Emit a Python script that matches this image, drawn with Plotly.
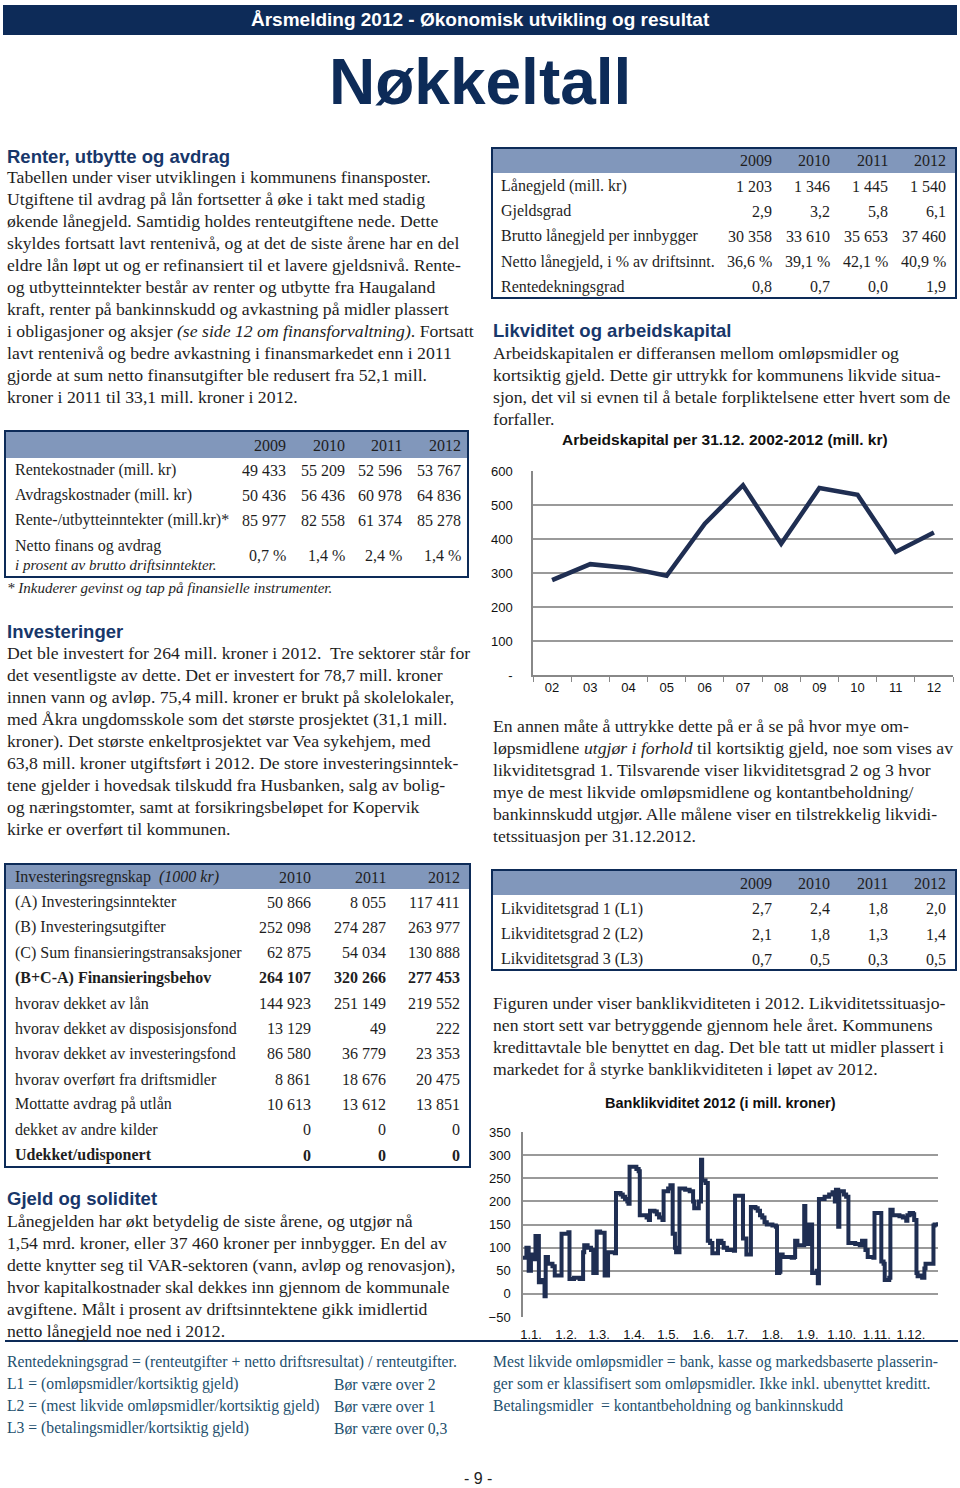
import plotly.graph_objects as go

W, H = 960, 1488
SERIF = "Liberation Serif, Times New Roman, serif"
SANS = "Liberation Sans, Arial, sans-serif"
NARROW = "Liberation Sans Narrow, Arial Narrow, Liberation Sans, sans-serif"
NAVY = "#0d2b58"
HEAD = "#18376a"
TXT = "#1e1e1e"
FOOT = "#24506e"
BAND = "#8197bb"
LINE = "#1f2e52"
GRID = "#9a9a9a"
BODY = 17.7
TAB = 16
FOOTSZ = 15.7

# ---------------- data ----------------
ak_years = ["02", "03", "04", "05", "06", "07", "08", "09", "10", "11", "12"]
ak_values = [279, 326, 315, 292, 445, 558, 386, 550, 530, 362, 419]
ak_yticks = [0, 100, 200, 300, 400, 500, 600]
ak_yticktext = ["-", "100", "200", "300", "400", "500", "600"]

bank_day = [0, 3, 5, 7, 9, 11, 14, 17, 19, 20, 22, 26, 28, 34, 40, 41, 45, 50, 53, 54,
            57, 60, 62, 65, 68, 72, 75, 81, 82, 86, 88, 90, 92, 93, 94, 100, 102, 103, 109, 111,
            112, 116, 118, 120, 123, 124, 128, 130, 132, 134, 135, 138, 143, 147, 150, 151, 155, 157, 158, 161,
            163, 165, 167, 172, 175, 177, 180, 186, 187, 194, 197, 201, 205, 207, 209, 211, 213, 215, 220, 223,
            224, 226, 227, 229, 237, 239, 240, 242, 248, 249, 252, 255, 259, 260, 261, 266, 270, 273, 275, 276,
            278, 279, 283, 285, 287, 293, 297, 299, 302, 304, 309, 310, 316, 318, 319, 323, 324, 326, 332, 335,
            338, 339, 341, 344, 345, 347, 348, 351, 352, 354, 355, 362, 363, 366]
bank_value = [78, 100, 50, 85, 75, 125, 25, 30, -5, 80, 65, 60, 40, 130, 133, 32, 35, 32, 90, 105,
              100, 95, 45, 135, 132, 40, 90, 88, 218, 215, 210, 205, 200, 195, 275, 270, 265, 170, 165, 160,
              180, 178, 172, 165, 160, 222, 228, 235, 130, 100, 90, 228, 225, 222, 200, 185, 200, 290, 245, 240,
              115, 110, 88, 115, 110, 100, 95, 93, 212, 120, 85, 188, 185, 180, 170, 165, 155, 150, 148, 145,
              45, 48, 85, 80, 78, 80, 115, 105, 190, 108, 150, 45, 50, 23, 205, 210, 215, 220, 200, 225,
              145, 222, 215, 210, 110, 108, 105, 115, 95, 80, 78, 175, 70, 65, 30, 35, 182, 170, 168, 165,
              158, 170, 175, 172, 160, 45, 38, 40, 35, 55, 65, 148, 150, 155]
bank_month_start = [0, 31, 60, 91, 121, 152, 182, 213, 244, 274, 305, 335]
bank_month_text = ["1.1.", "1.2.", "1.3.", "1.4.", "1.5.", "1.6.", "1.7.", "1.8.", "1.9.", "1.10.", "1.11.", "1.12."]
bank_yticks = [-50, 0, 50, 100, 150, 200, 250, 300, 350]

t1_years = ["2009", "2010", "2011", "2012"]
t1_rows = ["Rentekostnader (mill. kr)", "Avdragskostnader (mill. kr)", "Rente-/utbytteinntekter (mill.kr)*"]
t1_vals = [["49 433", "55 209", "52 596", "53 767"],
           ["50 436", "56 436", "60 978", "64 836"],
           ["85 977", "82 558", "61 374", "85 278"]]
t1_netto = ["0,7 %", "1,4 %", "2,4 %", "1,4 %"]

t2_years = ["2009", "2010", "2011", "2012"]
t2_rows = ["Lånegjeld (mill. kr)", "Gjeldsgrad", "Brutto lånegjeld per innbygger",
           "Netto lånegjeld, i % av driftsinnt.", "Rentedekningsgrad"]
t2_vals = [["1 203", "1 346", "1 445", "1 540"],
           ["2,9", "3,2", "5,8", "6,1"],
           ["30 358", "33 610", "35 653", "37 460"],
           ["36,6 %", "39,1 %", "42,1 %", "40,9 %"],
           ["0,8", "0,7", "0,0", "1,9"]]

t3_years = ["2010", "2011", "2012"]
t3_rows = ["(A) Investeringsinntekter", "(B) Investeringsutgifter", "(C) Sum finansieringstransaksjoner",
           "(B+C-A) Finansieringsbehov", "hvorav dekket av lån", "hvorav dekket av disposisjonsfond",
           "hvorav dekket av investeringsfond", "hvorav overført fra driftsmidler", "Mottatte avdrag på utlån",
           "dekket av andre kilder", "Udekket/udisponert"]
t3_vals = [["50 866", "8 055", "117 411"],
           ["252 098", "274 287", "263 977"],
           ["62 875", "54 034", "130 888"],
           ["264 107", "320 266", "277 453"],
           ["144 923", "251 149", "219 552"],
           ["13 129", "49", "222"],
           ["86 580", "36 779", "23 353"],
           ["8 861", "18 676", "20 475"],
           ["10 613", "13 612", "13 851"],
           ["0", "0", "0"],
           ["0", "0", "0"]]
t3_bold = [False, False, False, True, False, False, False, False, False, False, True]

t4_years = ["2009", "2010", "2011", "2012"]
t4_rows = ["Likviditetsgrad 1 (L1)", "Likviditetsgrad 2 (L2)", "Likviditetsgrad 3 (L3)"]
t4_vals = [["2,7", "2,4", "1,8", "2,0"],
           ["2,1", "1,8", "1,3", "1,4"],
           ["0,7", "0,5", "0,3", "0,5"]]

renter_lines = [
    "Tabellen under viser utviklingen i kommunens finansposter.",
    "Utgiftene til avdrag på lån fortsetter å øke i takt med stadig",
    "økende lånegjeld. Samtidig holdes renteutgiftene nede. Dette",
    "skyldes fortsatt lavt rentenivå, og at det de siste årene har en del",
    "eldre lån løpt ut og er refinansiert til et lavere gjeldsnivå. Rente-",
    "og utbytteinntekter består av renter og utbytte fra Haugaland",
    "kraft, renter på bankinnskudd og avkastning på midler plassert",
    "i obligasjoner og aksjer <i>(se side 12 om finansforvaltning)</i>. Fortsatt",
    "lavt rentenivå og bedre avkastning i finansmarkedet enn i 2011",
    "gjorde at sum netto finansutgifter ble redusert fra 52,1 mill.",
    "kroner i 2011 til 33,1 mill. kroner i 2012.",
]
invest_lines = [
    "Det ble investert for 264 mill. kroner i 2012.  Tre sektorer står for",
    "det vesentligste av dette. Det er investert for 78,7 mill. kroner",
    "innen vann og avløp. 75,4 mill. kroner er brukt på skolelokaler,",
    "med Åkra ungdomsskole som det største prosjektet (31,1 mill.",
    "kroner). Det største enkeltprosjektet var Vea sykehjem, med",
    "63,8 mill. kroner utgiftsført i 2012. De store investeringsinntek-",
    "tene gjelder i hovedsak tilskudd fra Husbanken, salg av bolig-",
    "og næringstomter, samt at forsikringsbeløpet for Kopervik",
    "kirke er overført til kommunen.",
]
gjeld_lines = [
    "Lånegjelden har økt betydelig de siste årene, og utgjør nå",
    "1,54 mrd. kroner, eller 37 460 kroner per innbygger. En del av",
    "dette knytter seg til VAR-sektoren (vann, avløp og renovasjon),",
    "hvor kapitalkostnader skal dekkes inn gjennom de kommunale",
    "avgiftene. Målt i prosent av driftsinntektene gikk imidlertid",
    "netto lånegjeld noe ned i 2012.",
]
likv_lines = [
    "Arbeidskapitalen er differansen mellom omløpsmidler og",
    "kortsiktig gjeld. Dette gir uttrykk for kommunens likvide situa-",
    "sjon, det vil si evnen til å betale forpliktelsene etter hvert som de",
    "forfaller.",
]
annen_lines = [
    "En annen måte å uttrykke dette på er å se på hvor mye om-",
    "løpsmidlene <i>utgjør i forhold</i> til kortsiktig gjeld, noe som vises av",
    "likviditetsgrad 1. Tilsvarende viser likviditetsgrad 2 og 3 hvor",
    "mye de mest likvide omløpsmidlene og kontantbeholdning/",
    "bankinnskudd utgjør. Alle målene viser en tilstrekkelig likvidi-",
    "tetssituasjon per 31.12.2012.",
]
figuren_lines = [
    "Figuren under viser banklikviditeten i 2012. Likviditetssituasjo-",
    "nen stort sett var betryggende gjennom hele året. Kommunens",
    "kredittavtale ble benyttet en dag. Det ble tatt ut midler plassert i",
    "markedet for å styrke banklikviditeten i løpet av 2012.",
]
foot_left = [
    ("Rentedekningsgrad = (renteutgifter + netto driftsresultat) / renteutgifter.", ""),
    ("L1 = (omløpsmidler/kortsiktig gjeld)", "Bør være over 2"),
    ("L2 = (mest likvide omløpsmidler/kortsiktig gjeld)", "Bør være over 1"),
    ("L3 = (betalingsmidler/kortsiktig gjeld)", "Bør være over 0,3"),
]
foot_right = [
    "Mest likvide omløpsmidler = bank, kasse og markedsbaserte plasserin-",
    "ger som er klassifisert som omløpsmidler. Ikke inkl. ubenyttet kreditt.",
    "Betalingsmidler  = kontantbeholdning og bankinnskudd",
]

# ---------------- helpers ----------------
ann = []
shapes = []


def px(x):
    return x / W


def py(y):
    return 1 - y / H


def txt(x, y, s, size=BODY, family=SERIF, color=TXT, anchor="left"):
    ann.append(dict(x=px(x), y=py(y), xref="paper", yref="paper", text=s, showarrow=False,
                    xanchor=anchor, yanchor="middle", align=anchor if anchor != "center" else "center",
                    font=dict(size=size, family=family, color=color)))


def rect(x0, y0, x1, y1, fill=None, line=None, lw=0):
    shapes.append(dict(type="rect", xref="paper", yref="paper", x0=px(x0), x1=px(x1), y0=py(y1), y1=py(y0),
                       fillcolor=fill if fill else "rgba(0,0,0,0)",
                       line=dict(color=line if line else "rgba(0,0,0,0)", width=lw), layer="below"))


def hline(x0, x1, y, color, lw):
    shapes.append(dict(type="line", xref="paper", yref="paper", x0=px(x0), x1=px(x1), y0=py(y), y1=py(y),
                       line=dict(color=color, width=lw)))


def lines(x, y0, step, arr, size=BODY, color=TXT):
    for i, s in enumerate(arr):
        txt(x, y0 + i * step, s, size=size, color=color)


# ---------------- page header ----------------
rect(3, 5, 957, 35, fill=NAVY)
txt(480, 20, "<b>Årsmelding 2012 - Økonomisk utvikling og resultat</b>", size=19, family=NARROW,
    color="white", anchor="center")
txt(480, 82, "<b>Nøkkeltall</b>", size=64, family=NARROW, color=NAVY, anchor="center")

# ---------------- left column ----------------
txt(5, 156, "<b>Renter, utbytte og avdrag</b>", size=18.5, family=SANS, color=HEAD)
lines(5, 177, 22, renter_lines)

# table 1
rect(5, 431, 468, 458, fill=BAND)
rect(5, 431, 468, 577, line=NAVY, lw=2)
t1_right = [288, 347, 404, 463]
for j, yr in enumerate(t1_years):
    txt(t1_right[j], 445, yr, size=TAB, anchor="right")
for i, r in enumerate(t1_rows):
    yy = 470 + i * 25
    txt(13, yy, r, size=TAB)
    for j, v in enumerate(t1_vals[i]):
        txt(t1_right[j], yy, v, size=TAB, anchor="right")
txt(13, 546, "Netto finans og avdrag", size=TAB)
txt(13, 565, "<i>i prosent av brutto driftsinntekter.</i>", size=15)
for j, v in enumerate(t1_netto):
    txt(t1_right[j], 555, v, size=TAB, anchor="right")
txt(5, 588, "<i>* Inkuderer gevinst og tap på finansielle instrumenter.</i>", size=15)

txt(5, 631, "<b>Investeringer</b>", size=18.5, family=SANS, color=HEAD)
lines(5, 653, 22, invest_lines)

# table 3
rect(5, 864, 470, 889, fill=BAND)
rect(5, 864, 470, 1167, line=NAVY, lw=2)
t3_right = [313, 388, 462]
txt(13, 877, "Investeringsregnskap  <i>(1000 kr)</i>", size=TAB)
for j, yr in enumerate(t3_years):
    txt(t3_right[j], 877, yr, size=TAB, anchor="right")
for i, r in enumerate(t3_rows):
    yy = 902 + i * 25.3
    b0, b1 = ("<b>", "</b>") if t3_bold[i] else ("", "")
    txt(13, yy, b0 + r + b1, size=TAB)
    for j, v in enumerate(t3_vals[i]):
        txt(t3_right[j], yy, b0 + v + b1, size=TAB, anchor="right")

txt(5, 1198, "<b>Gjeld og soliditet</b>", size=18.5, family=SANS, color=HEAD)
lines(5, 1221, 22, gjeld_lines)

hline(5, 958, 1341, NAVY, 2)
for i, (a, b) in enumerate(foot_left):
    yy = 1362 + i * 22
    txt(5, yy, a, size=FOOTSZ, color=FOOT)
    if b:
        txt(332, yy, b, size=FOOTSZ, color=FOOT)

# ---------------- right column ----------------
rect(492, 148, 956, 173, fill=BAND)
rect(492, 148, 956, 298, line=NAVY, lw=2)
t2_right = [774, 832, 890, 948]
for j, yr in enumerate(t2_years):
    txt(t2_right[j], 161, yr, size=TAB, anchor="right")
for i, r in enumerate(t2_rows):
    yy = 186 + i * 25.2
    txt(499, yy, r, size=TAB)
    for j, v in enumerate(t2_vals[i]):
        txt(t2_right[j], yy, v, size=TAB, anchor="right")

txt(491, 331, "<b>Likviditet og arbeidskapital</b>", size=18.5, family=SANS, color=HEAD)
lines(491, 353, 22, likv_lines)
txt(725, 439, "<b>Arbeidskapital per 31.12. 2002-2012 (mill. kr)</b>", size=15.5, family=SANS,
    color="#111", anchor="center")

lines(491, 726, 21.9, annen_lines)

rect(492, 870, 956, 895, fill=BAND)
rect(492, 870, 956, 970, line=NAVY, lw=2)
for j, yr in enumerate(t4_years):
    txt(t2_right[j], 883, yr, size=TAB, anchor="right")
for i, r in enumerate(t4_rows):
    yy = 909 + i * 25
    txt(499, yy, r, size=TAB)
    for j, v in enumerate(t4_vals[i]):
        txt(t2_right[j], yy, v, size=TAB, anchor="right")

lines(491, 1003, 22, figuren_lines)
txt(720, 1103, "<b>Banklikviditet 2012 (i mill. kroner)</b>", size=14.5, family=SANS,
    color="#111", anchor="center")

for i, s in enumerate(foot_right):
    txt(491, 1362 + i * 22, s, size=FOOTSZ, color=FOOT)

txt(478, 1478, "- 9 -", size=16, family=SANS, color="#222", anchor="center")

# ---------------- charts ----------------
fig = go.Figure()
fig.add_trace(go.Scatter(x=ak_years, y=ak_values, mode="lines", xaxis="x", yaxis="y",
                         line=dict(color=LINE, width=4.5), showlegend=False, hoverinfo="x+y"))
fig.add_trace(go.Scatter(x=bank_day, y=bank_value, mode="lines", xaxis="x2", yaxis="y2",
                         line=dict(color=LINE, width=4, shape="hv"), showlegend=False))

tickfont = dict(family=SANS, size=13, color="#111")
zero_y2 = 1317 - 50 * (1317 - 1132) / 400.0

fig.update_layout(
    width=W, height=H, margin=dict(l=0, r=0, t=0, b=0, autoexpand=False),
    paper_bgcolor="white", plot_bgcolor="white",
    font=dict(family=SERIF, color=TXT),
    xaxis=dict(domain=[px(533), px(953)], anchor="y", type="category", range=[-0.5, 10.5],
               tickson="boundaries", ticks="outside", ticklen=5, tickcolor="#888",
               showline=True, linecolor="#888", linewidth=1.5, showgrid=False,
               tickfont=tickfont, fixedrange=True),
    yaxis=dict(domain=[py(675), py(471)], anchor="x", range=[0, 600], tickvals=ak_yticks,
               ticktext=ak_yticktext, showgrid=True, gridcolor=GRID, gridwidth=1.5,
               showline=True, linecolor="#888", linewidth=1.5, zeroline=False,
               ticks="", ticklabelstandoff=16,
               tickfont=tickfont, fixedrange=True),
    xaxis2=dict(domain=[px(523), px(938)], anchor="y2", range=[0, 366], tickvals=bank_month_start,
                ticktext=bank_month_text, ticks="", showgrid=False, showline=False, zeroline=False,
                ticklabelshift=8, ticklabelstandoff=8, tickfont=tickfont, fixedrange=True),
    xaxis3=dict(overlaying="x2", anchor="free", position=py(zero_y2), range=[0, 366],
                tickvals=bank_month_start, ticks="outside", ticklen=5, tickcolor="#888",
                showticklabels=False, showgrid=False, showline=False, zeroline=False, fixedrange=True),
    yaxis2=dict(domain=[py(1317), py(1132)], anchor="x2", range=[-50, 350], tickvals=bank_yticks,
                showgrid=True, gridcolor=GRID, gridwidth=1.5, zeroline=False,
                showline=True, linecolor="#888", linewidth=1.5, ticks="",
                ticklabelstandoff=8, tickfont=tickfont, fixedrange=True),
    annotations=ann,
    shapes=shapes,
)

fig.write_html("out.html", config={"displayModeBar": False},
               post_script="document.body.style.margin='0';document.body.style.overflow='hidden';")
